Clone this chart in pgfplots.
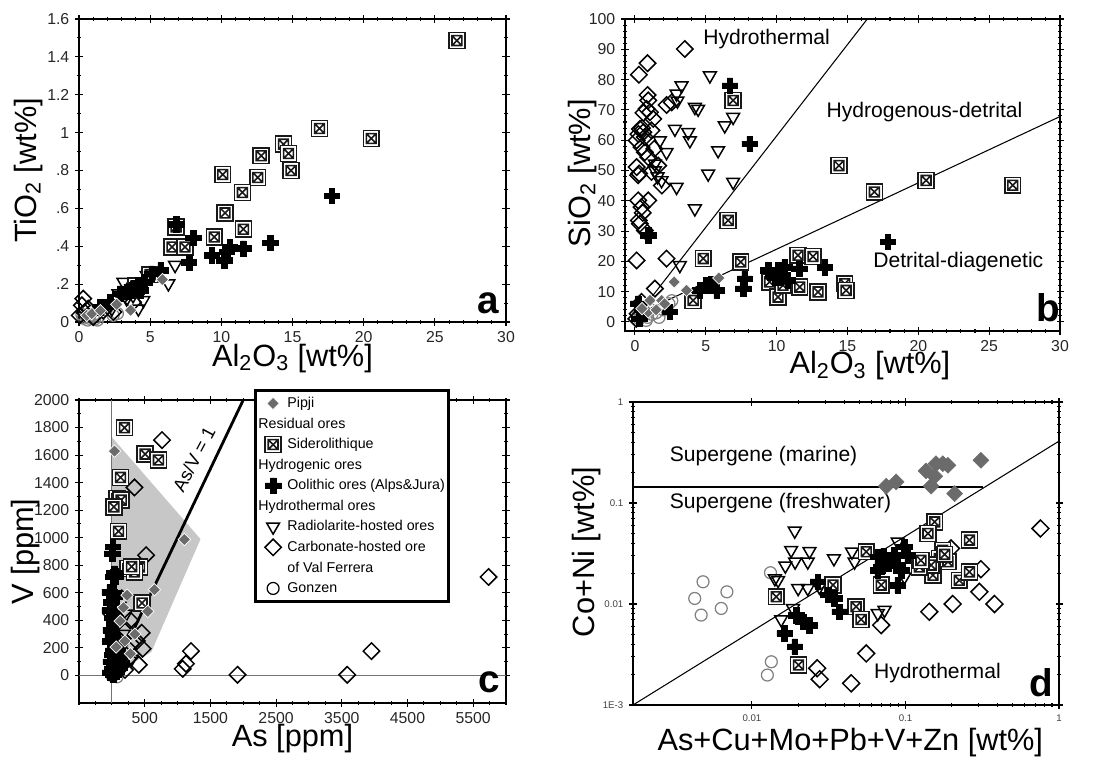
\documentclass[border=0pt]{standalone}
\usepackage{fontspec}
\setmainfont{Liberation Sans}
\usepackage{pgfplots}
\pgfplotsset{compat=1.18}

% square with a cross inside (Siderolithique)
\pgfdeclareplotmark{sqx}{%
  \pgfpathrectangle{\pgfqpoint{-\pgfplotmarksize}{-\pgfplotmarksize}}{\pgfqpoint{2\pgfplotmarksize}{2\pgfplotmarksize}}%
  \pgfusepathqfillstroke
  \pgfpathrectangle{\pgfqpoint{-0.62\pgfplotmarksize}{-0.62\pgfplotmarksize}}{\pgfqpoint{1.24\pgfplotmarksize}{1.24\pgfplotmarksize}}%
  \pgfpathmoveto{\pgfqpoint{-0.62\pgfplotmarksize}{-0.62\pgfplotmarksize}}%
  \pgfpathlineto{\pgfqpoint{0.62\pgfplotmarksize}{0.62\pgfplotmarksize}}%
  \pgfpathmoveto{\pgfqpoint{-0.62\pgfplotmarksize}{0.62\pgfplotmarksize}}%
  \pgfpathlineto{\pgfqpoint{0.62\pgfplotmarksize}{-0.62\pgfplotmarksize}}%
  \pgfusepathqstroke
}
% bold plus (oolithic ores)
\pgfdeclareplotmark{bplus}{%
  \pgfpathmoveto{\pgfqpoint{-0.36\pgfplotmarksize}{\pgfplotmarksize}}%
  \pgfpathlineto{\pgfqpoint{0.36\pgfplotmarksize}{\pgfplotmarksize}}%
  \pgfpathlineto{\pgfqpoint{0.36\pgfplotmarksize}{0.36\pgfplotmarksize}}%
  \pgfpathlineto{\pgfqpoint{\pgfplotmarksize}{0.36\pgfplotmarksize}}%
  \pgfpathlineto{\pgfqpoint{\pgfplotmarksize}{-0.36\pgfplotmarksize}}%
  \pgfpathlineto{\pgfqpoint{0.36\pgfplotmarksize}{-0.36\pgfplotmarksize}}%
  \pgfpathlineto{\pgfqpoint{0.36\pgfplotmarksize}{-\pgfplotmarksize}}%
  \pgfpathlineto{\pgfqpoint{-0.36\pgfplotmarksize}{-\pgfplotmarksize}}%
  \pgfpathlineto{\pgfqpoint{-0.36\pgfplotmarksize}{-0.36\pgfplotmarksize}}%
  \pgfpathlineto{\pgfqpoint{-\pgfplotmarksize}{-0.36\pgfplotmarksize}}%
  \pgfpathlineto{\pgfqpoint{-\pgfplotmarksize}{0.36\pgfplotmarksize}}%
  \pgfpathlineto{\pgfqpoint{-0.36\pgfplotmarksize}{0.36\pgfplotmarksize}}%
  \pgfpathclose
  \pgfusepathqfillstroke
}

\pgfplotsset{
  panel/.style={
    scale only axis, clip=false,
    axis line style={line width=0.8pt},
    tick align=center, major tick length=4pt, minor tick length=2pt,
    every tick/.append style={black, line width=0.6pt},
    tick label style={font=\fontsize{9}{10}\selectfont, text=black!85},
    label style={font=\fontsize{17.5}{19}\selectfont},
    /pgf/number format/assume math mode=true,
    /pgf/number format/1000 sep={},
  },
  sid/.style={only marks, mark=sqx, mark size=4.5pt, mark options={draw=black!90, fill=white, line width=0.9pt}},
  ool/.style={only marks, mark=bplus, mark size=4.4pt, mark options={draw=black, fill=black, line width=0.3pt}},
  rad/.style={only marks, mark=triangle, mark size=4.2pt, mark options={draw=black, rotate=180, line width=0.85pt}},
  carb/.style={only marks, mark=square, mark size=3.3pt, mark options={rotate=45, draw=black, line width=0.85pt}},
  gon/.style={only marks, mark=o, mark size=3.4pt, mark options={draw=black!50, line width=0.7pt}},
  pip/.style={only marks, mark=square*, mark size=2.5pt, mark options={rotate=45, fill=black!58, draw=white, line width=0.4pt}},
}
\tikzset{
  zone/.style={font=\fontsize{12}{14}\selectfont, anchor=west, inner sep=0pt},
  letter/.style={font=\fontsize{22}{24}\selectfont\bfseries},
}

\begin{document}
\begin{tikzpicture}
\path[use as bounding box] (0,0) rectangle (21.92,15.22);

% ---------------- a ----------------
\begin{axis}[panel, at={(1.58cm,8.78cm)}, anchor=south west,
  width=8.54cm, height=6.06cm,
  xmin=0, xmax=30, ymin=0, ymax=1.6,
  xtick={0,5,...,30}, minor x tick num=4,
  ytick={0,0.2,0.4,0.6,0.8,1,1.2,1.4,1.6},
  yticklabels={0,.2,.4,.6,.8,1,1.2,1.4,1.6}, minor y tick num=1,
  xlabel={Al\textsubscript{2}O\textsubscript{3} [wt\%]},
  ylabel={TiO\textsubscript{2} [wt\%]},
  xlabel style={at={(axis description cs:0.5,-0.119)}, anchor=center},
  ylabel style={at={(axis description cs:-0.119,0.5)}, anchor=center},
]
\addplot[gon] coordinates {(0.5,0.03) (0.8,0.04) (1.0,0.03) (1.2,0.045) (0.7,0.02) (1.4,0.03) (0.3,0.02) (2.4,0.035) (0.9,0.055) (1.1,0.015) (0.6,0.01) (1.3,0.01) (2.7,0.045) (0.2,0.04)};
\addplot[carb] coordinates {(0.3,0.123) (0.2,0.088) (0.65,0.07) (2.41,0.053) (1.7,0.06) (0.05,0.035) (3.8,0.105) (1.0,0.026) (0.4,0.05)};
\addplot[rad] coordinates {(6.75,0.30) (6.28,0.203) (3.12,0.211) (4.17,0.211) (4.52,0.115) (4.17,0.07) (2.77,0.15) (4.76,0.247) (3.35,0.123) (2.3,0.07) (3.8,0.14)};
\addplot[sid] coordinates {(26.55,1.486) (16.9,1.022) (20.53,0.969) (14.37,0.939) (14.72,0.89) (14.9,0.80) (12.8,0.878) (12.56,0.763) (10.1,0.779) (11.48,0.684) (10.26,0.576) (11.55,0.49) (9.5,0.449) (6.54,0.396) (7.45,0.396) (6.82,0.502) (5.0,0.25) (4.0,0.19)};
\addplot[ool] coordinates {(17.76,0.666) (13.43,0.418) (8.04,0.444) (7.73,0.314) (6.82,0.516) (9.33,0.352) (10.2,0.326) (10.6,0.396) (11.55,0.388) (10.4,0.37) (5.74,0.273) (5.1,0.255) (4.17,0.194) (3.7,0.167) (3.35,0.159) (4.3,0.167) (2.18,0.106) (1.48,0.079) (2.9,0.15) (3.9,0.18) (4.6,0.21)};
\addplot[pip] coordinates {(5.86,0.224) (2.65,0.093) (3.63,0.062) (0.54,0.035) (0.9,0.044) (1.5,0.06)};
\node[letter] at (rel axis cs:0.958,0.063) {a};
\end{axis}

% ---------------- b ----------------
\begin{axis}[panel, at={(12.5cm,8.6cm)}, anchor=south west,
  width=8.7cm, height=6.24cm,
  xmin=-0.7, xmax=30, ymin=-3, ymax=100,
  xtick={0,5,...,30}, minor x tick num=4,
  ytick={0,10,...,100}, minor y tick num=4,
  xlabel={Al\textsubscript{2}O\textsubscript{3} [wt\%]},
  ylabel={SiO\textsubscript{2} [wt\%]},
  xlabel style={at={(axis description cs:0.563,-0.112)}, anchor=center},
  ylabel style={at={(axis description cs:-0.097,0.506)}, anchor=center},
]
\addplot[black, line width=0.6pt] coordinates {(1.2,8.3) (16.4,100)};
\addplot[black, line width=0.6pt] coordinates {(1,4.3) (30,67.8)};
\addplot[gon] coordinates {(0.3,1) (0.6,2) (0.9,1.5) (1.2,2.5) (1.5,3) (2,4) (0.4,3) (0.8,0.5) (1.7,1.5) (2.4,6) (2.6,7) (1.1,4) (0.2,2)};
\addplot[carb] coordinates {(3.52,90.1) (0.89,85.4) (0.28,81.6) (0.89,74.9) (0.94,73.1) (0.82,70.3) (1.06,69.2) (2.23,71.6) (1.29,67.0) (0.35,63.7) (0.59,62.6) (0.12,59.9) (0.7,61.0) (1.17,63.2) (0.47,57.7) (0.7,56.0) (0.94,54.4) (0.23,48.4) (0.12,51.1) (0.23,40.1) (0.94,40.1) (0.47,37.9) (0.28,33.5) (0.35,32.4) (0.7,30.2) (0.12,20.3) (2.23,20.9) (1.41,11.0) (0.47,6.6) (0.19,2.7) (1.17,49.5) (1.64,51.6) (1.36,57.1) (0.5,64) (0.25,62) (0.6,69) (0.3,49) (0.55,36) (1.9,45) (0.1,1) (2.6,72.5)};
\addplot[rad] coordinates {(5.29,81.3) (3.29,78.0) (2.94,75.3) (4.23,70.9) (4.46,70.3) (6.93,67.6) (6.34,64.8) (2.82,63.7) (3.76,62.6) (3.88,59.9) (1.76,59.9) (5.87,56.6) (2.23,56.0) (1.41,52.2) (5.17,48.9) (6.93,46.2) (2.94,44.5) (1.41,50) (1.88,46.7) (4.23,37.4) (3.17,18.7) (3.0,73) (1.6,48)};
\addplot[sid] coordinates {(6.93,73.1) (6.58,33.5) (4.82,20.9) (7.47,19.8) (4.11,7.1) (14.4,51.6) (16.9,42.9) (20.55,46.7) (26.66,45.1) (11.51,22.0) (12.57,21.6) (9.51,13.2) (10.1,8.2) (10.45,12.1) (11.63,11.5) (12.92,9.9) (14.8,12.6) (14.9,10.4)};
\addplot[ool] coordinates {(6.7,78.0) (8.1,58.8) (0.94,28.6) (17.85,26.4) (2.47,3.3) (0.23,6.0) (4.58,10.4) (5.05,12.1) (5.76,10.4) (5.4,12.6) (7.75,14.3) (7.63,11.0) (9.4,17.0) (10.1,17.0) (10.3,14.8) (10.57,18.1) (10.8,13.7) (11.6,17.6) (13.4,18.1) (9.87,14.8) (0.5,4) (0.3,1)};
\addplot[pip] coordinates {(5.92,14.5) (2.77,13.2) (3.64,10.4) (1.06,7.1) (1.88,7.1) (2.1,6.0) (0.94,3.3) (0.5,4.4) (1.5,4)};
\node[zone] at (axis cs:4.8,93.4) {Hydrothermal};
\node[zone] at (axis cs:13.5,69.2) {Hydrogenous-detrital};
\node[zone] at (axis cs:16.8,19.8) {Detrital-diagenetic};
\node[letter] at (rel axis cs:0.972,0.074) {b};
\end{axis}

% ---------------- c ----------------
\begin{axis}[panel, at={(1.58cm,1.16cm)}, anchor=south west,
  width=8.54cm, height=6.06cm,
  xmin=-500, xmax=6000, ymin=-200, ymax=2000,
  xtick={500,1500,...,5500}, minor xtick={-500,-250,...,6000},
  ytick={0,200,...,2000}, minor y tick num=1,
  xlabel={As [ppm]}, ylabel={V [ppm]},
  xlabel style={at={(axis description cs:0.5,-0.116)}, anchor=center},
  ylabel style={at={(axis description cs:-0.126,0.5)}, anchor=center},
  legend style={at={(0.41,1.036)}, anchor=north west, draw=black, line width=1.6pt,
    fill=white, inner sep=1.5pt, row sep=0pt,
    font=\fontsize{8.1}{9}\selectfont,
    nodes={inner sep=0.6pt, text height=7.6pt, text depth=2.9pt},
    /tikz/every odd column/.append style={column sep=0.1cm}},
  legend cell align=left,
]
\addlegendimage{pip}\addlegendentry{Pipji}
\addlegendimage{empty legend}\addlegendentry{\hspace*{-0.58cm}Residual ores}
\addlegendimage{sid}\addlegendentry{Siderolithique}
\addlegendimage{empty legend}\addlegendentry{\hspace*{-0.58cm}Hydrogenic ores}
\addlegendimage{ool}\addlegendentry{Oolithic ores (Alps\&Jura)}
\addlegendimage{empty legend}\addlegendentry{\hspace*{-0.58cm}Hydrothermal ores}
\addlegendimage{rad}\addlegendentry{Radiolarite-hosted ores}
\addlegendimage{carb}\addlegendentry{Carbonate-hosted ore}
\addlegendimage{empty legend}\addlegendentry{of Val Ferrera}
\addlegendimage{gon, mark options={draw=black, line width=0.7pt}}\addlegendentry{Gonzen}

\addplot[fill=black!22, draw=none, forget plot] coordinates {(0,1730) (1350,990) (600,170) (0,0)} -- cycle;
\addplot[black!55, line width=0.5pt, forget plot] coordinates {(0,-200) (0,2000)};
\addplot[black!55, line width=0.5pt, forget plot] coordinates {(-500,0) (6000,0)};
\addplot[black, line width=1.6pt, forget plot] coordinates {(0,0) (2000,2000)};
\addplot[gon, forget plot] coordinates {(0,0) (40,10) (80,-10) (20,30)};
\addplot[carb, forget plot] coordinates {(764,1709) (344,1365) (521,873) (455,310) (470,194) (410,78) (1204,177) (1128,85) (1078,48) (1913,5) (3583,5) (3952,177) (5734,715) (-10,448) (218,327) (293,230) (80,30) (200,40) (150,560) (280,400) (380,250) (250,120)};
\addplot[rad, forget plot] coordinates {(218,448) (60,80) (120,200) (300,120) (180,300) (30,40)};
\addplot[sid, forget plot] coordinates {(192,1799) (506,1607) (709,1564) (132,1438) (76,1285) (142,1273) (30,1224) (101,1047) (243,776) (420,788) (344,752) (460,526) (300,790)};
\addplot[ool, forget plot] coordinates {(15,933) (5,885) (40,740) (15,715) (-35,606) (40,570) (-35,473) (20,600) (60,720) (0,420) (30,380) (-20,330) (10,290) (50,260) (-30,250) (80,220) (20,180) (0,150) (60,140) (100,120) (-20,100) (40,80) (120,60) (0,50) (70,30) (20,10) (-30,20) (150,90) (90,180) (30,450) (-10,530)};
\addplot[pip, forget plot] coordinates {(40,1629) (1103,987) (648,623) (233,582) (177,492) (547,465) (127,395) (66,206) (283,158) (350,300) (200,250)};
\node[rotate=62, font=\fontsize{10.5}{12}\selectfont] at (axis cs:1250,1570) {As/V = 1};
\node[letter] at (rel axis cs:0.96,0.069) {c};
\end{axis}

% ---------------- d ----------------
\begin{axis}[panel, at={(12.66cm,1.12cm)}, anchor=south west,
  width=8.52cm, height=6.06cm,
  xmode=log, ymode=log,
  xmin=0.00168, xmax=1, ymin=0.001, ymax=1,
  xtick={0.01,0.1,1}, xticklabels={0.01,0.1,1},
  ytick={0.001,0.01,0.1,1}, yticklabels={1E-3,0.01,0.1,1},
  tick label style={font=\fontsize{5.5}{6}\selectfont, text=black!75},
  xlabel={As+Cu+Mo+Pb+V+Zn [wt\%]}, ylabel={Co+Ni [wt\%]},
  xlabel style={at={(axis description cs:0.51,-0.125)}, anchor=center},
  ylabel style={at={(axis description cs:-0.11,0.505)}, anchor=center},
]
\addplot[black, line width=0.6pt] coordinates {(0.00168,0.001) (1,0.41)};
\addplot[black, line width=0.6pt] coordinates {(0.00168,0.144) (0.32,0.144)};
\addplot[gon] coordinates {(0.0048,0.0166) (0.00424,0.01135) (0.00687,0.0132) (0.00631,0.00904) (0.00467,0.00777) (0.0132,0.0204) (0.01337,0.00268) (0.0126,0.00198)};
\addplot[carb, mark size=3.4pt] coordinates {(0.757,0.0559) (0.198,0.0355) (0.31,0.0221) (0.303,0.0132) (0.38,0.0100) (0.203,0.0100) (0.143,0.00838) (0.0695,0.00618) (0.0555,0.00324) (0.0443,0.00164) (0.0266,0.00231) (0.0276,0.0018)};
\addplot[rad] coordinates {(0.019,0.053) (0.018,0.0341) (0.0237,0.0333) (0.0191,0.0262) (0.0165,0.0239) (0.0231,0.0262) (0.0342,0.0282) (0.0448,0.0329) (0.0466,0.0262) (0.0141,0.0179) (0.0148,0.0172) (0.02,0.0143) (0.0231,0.0143) (0.0185,0.00904) (0.0155,0.00703) (0.089,0.0413) (0.066,0.00807) (0.073,0.0087) (0.0985,0.0186) (0.0275,0.0148)};
\addplot[sid] coordinates {(0.155,0.065) (0.14,0.0499) (0.261,0.0429) (0.175,0.0341) (0.166,0.0282) (0.189,0.0262) (0.151,0.0193) (0.147,0.0243) (0.123,0.0233) (0.224,0.0172) (0.261,0.0208) (0.0555,0.0329) (0.0695,0.0154) (0.0477,0.0094) (0.0514,0.00703) (0.0337,0.0154) (0.0144,0.0118) (0.0201,0.00249) (0.126,0.027) (0.18,0.031)};
\addplot[ool] coordinates {(0.0985,0.0368) (0.066,0.0293) (0.073,0.0262) (0.0807,0.0272) (0.089,0.0243) (0.0695,0.0233) (0.0847,0.0305) (0.1035,0.0305) (0.0937,0.0216) (0.089,0.0154) (0.066,0.0216) (0.0269,0.0166) (0.0313,0.0123) (0.0345,0.01135) (0.0372,0.00838) (0.0195,0.00777) (0.0215,0.00667) (0.0237,0.00618) (0.0163,0.00512) (0.019,0.00378) (0.078,0.025) (0.072,0.03)};
\addplot[only marks, mark=square*, mark size=3.2pt, mark options={rotate=45, fill=black!58, draw=black!58, line width=0.3pt}] coordinates {(0.0749,0.1466) (0.0869,0.162) (0.136,0.208) (0.158,0.245) (0.175,0.245) (0.189,0.236) (0.155,0.184) (0.147,0.147) (0.209,0.124) (0.31,0.265)};
\node[zone] at (axis cs:0.0029,0.29) {Supergene (marine)};
\node[zone] at (axis cs:0.0029,0.099) {Supergene (freshwater)};
\node[zone] at (axis cs:0.0622,0.00205) {Hydrothermal};
\node[letter] at (rel axis cs:0.958,0.073) {d};
\end{axis}
\end{tikzpicture}
\end{document}
